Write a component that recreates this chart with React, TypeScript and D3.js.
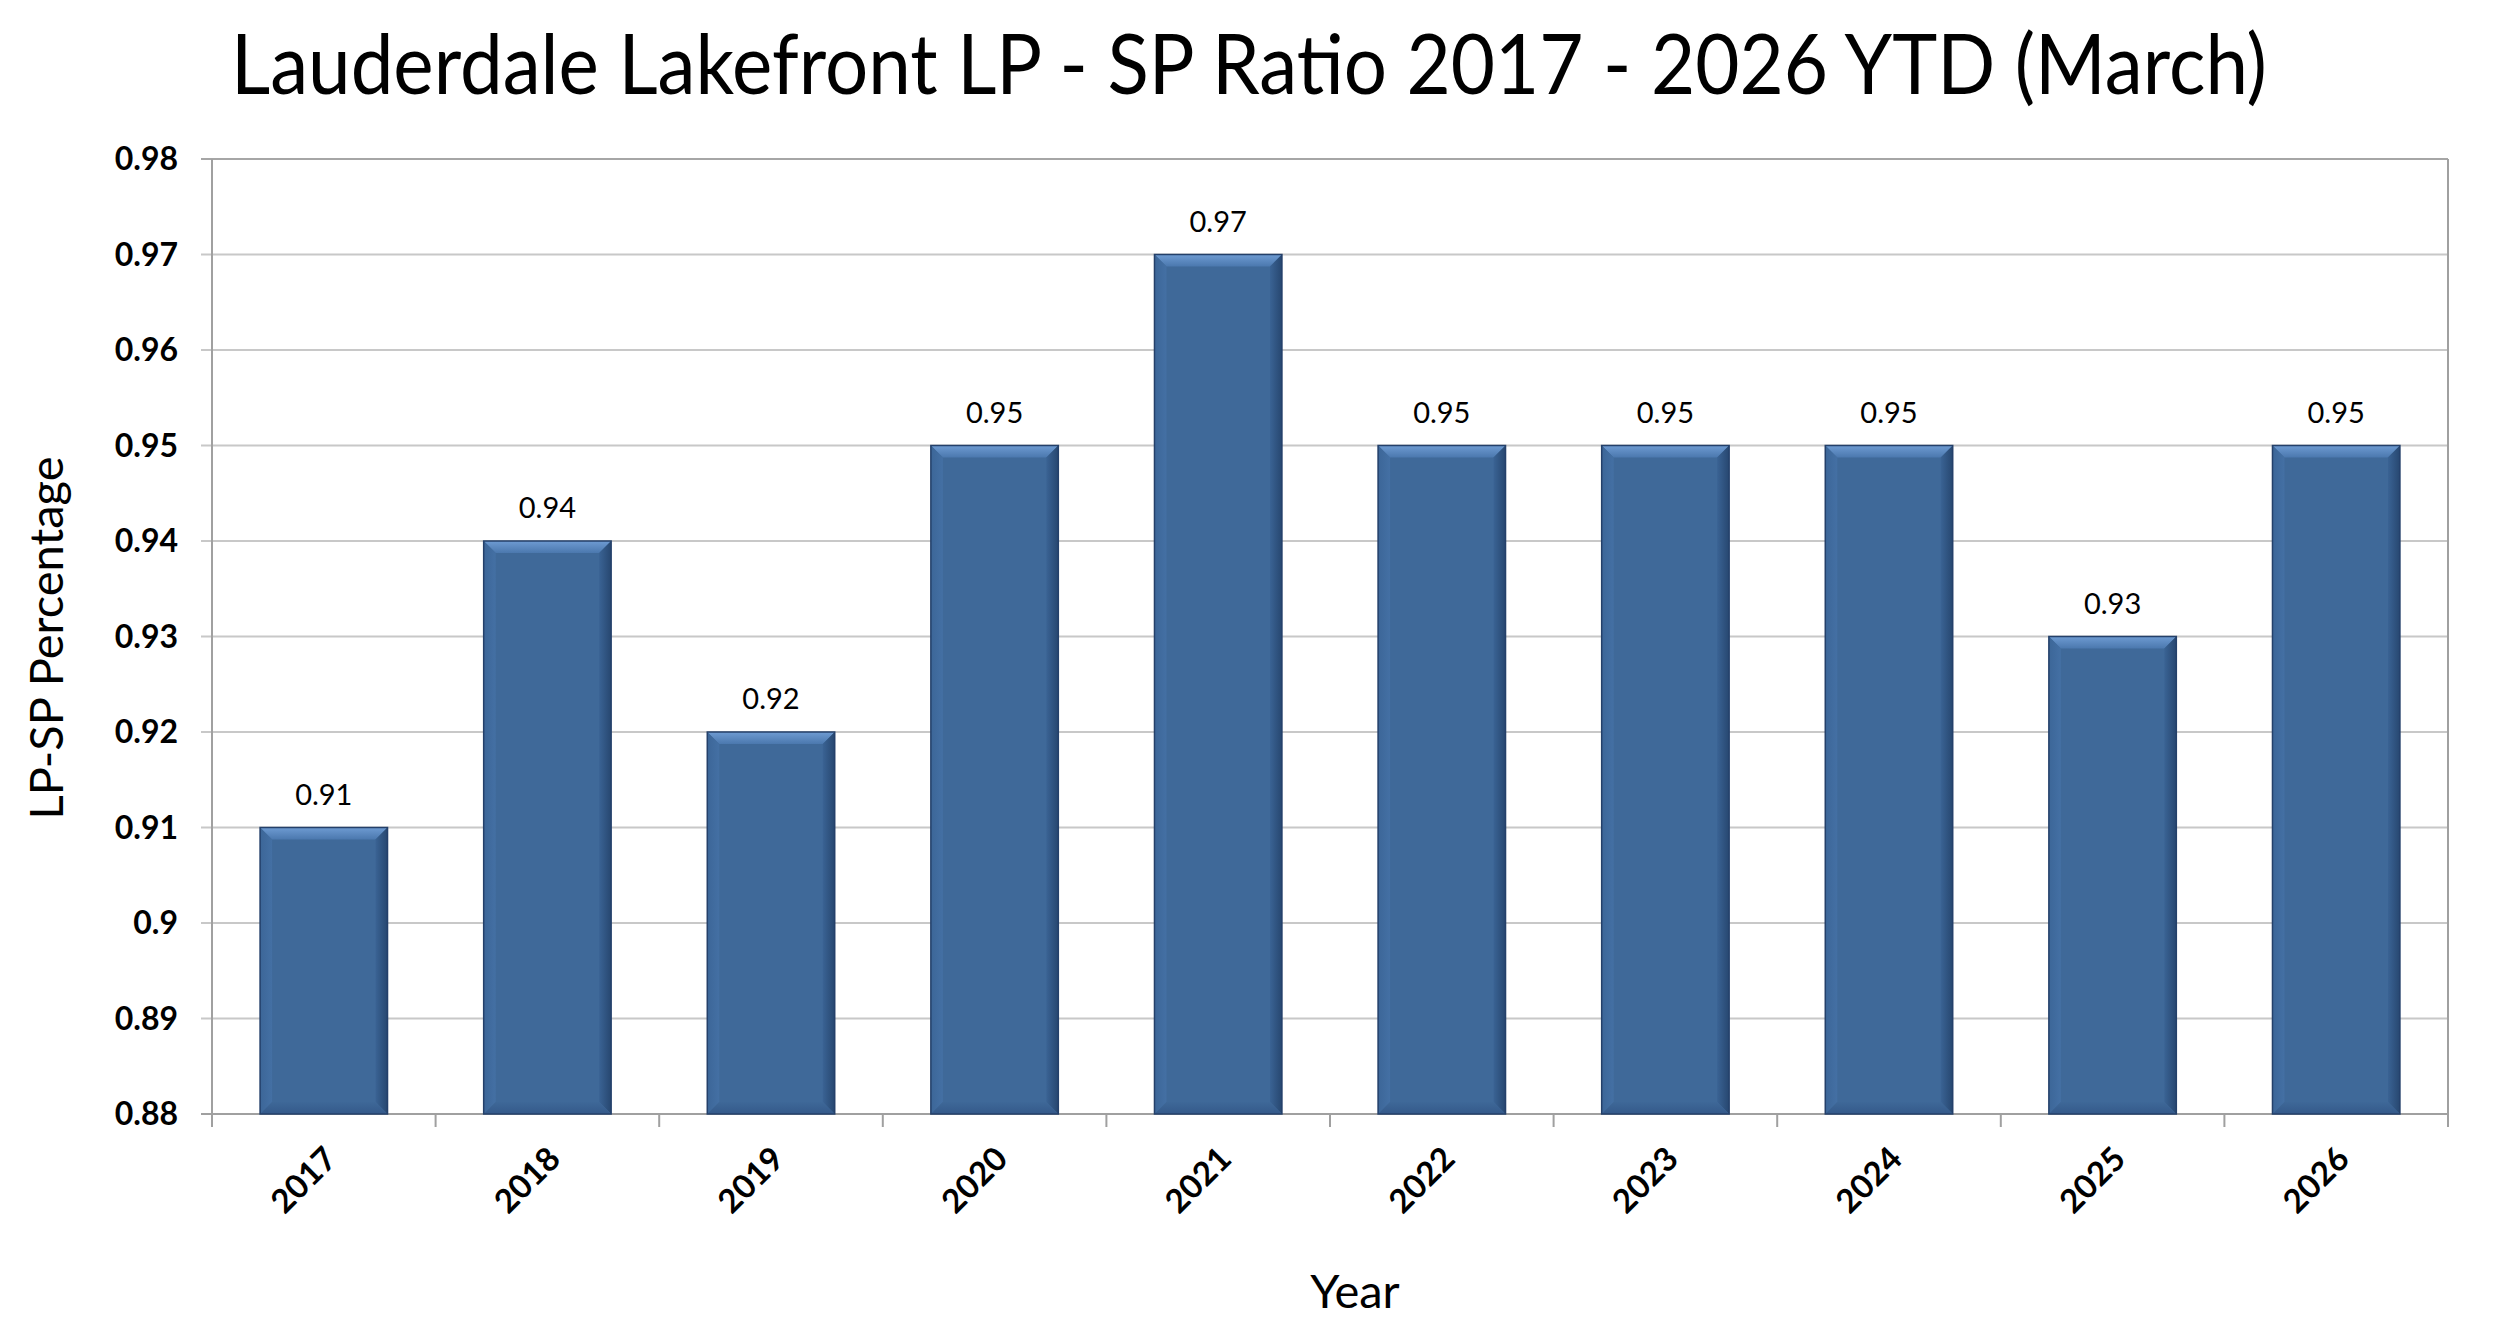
import React from "react";
import * as d3 from "d3";

const years = ["2017", "2018", "2019", "2020", "2021", "2022", "2023", "2024", "2025", "2026"];
const ratios = [0.91, 0.94, 0.92, 0.95, 0.97, 0.95, 0.95, 0.95, 0.93, 0.95];
const yTicks = [0.88, 0.89, 0.9, 0.91, 0.92, 0.93, 0.94, 0.95, 0.96, 0.97, 0.98];
const titleText = "Lauderdale Lakefront LP - SP Ratio 2017 - 2026 YTD (March)";
const yTitle = "LP-SP Percentage";
const xTitle = "Year";

const W = 2500;
const H = 1330;
const left = 212;
const right = 2448;
const top = 159;
const bottom = 1114;
const FONT = "Lato, 'Open Sans', sans-serif";

export default function App() {
  const x = d3
    .scaleBand<string>()
    .domain(years)
    .range([left, right])
    .paddingInner(0.43)
    .paddingOuter(0.215);
  const y = d3.scaleLinear().domain([0.88, 0.98]).range([bottom, top]);
  const step = x.step();
  const b = 12;
  const fmt = (v: number) => String(+v.toFixed(2));

  return (
    <svg width={W} height={H} style={{ position: "absolute", left: 0, top: 0, background: "#fff" }}>
      <defs>
        <linearGradient id="topBevel" x1="0" y1="0" x2="0" y2="1">
          <stop offset="0" stopColor="#6E9BD2" />
          <stop offset="1" stopColor="#4B78AE" />
        </linearGradient>
        <linearGradient id="rightBevel" x1="0" y1="0" x2="1" y2="0">
          <stop offset="0" stopColor="#3A6394" />
          <stop offset="1" stopColor="#274770" />
        </linearGradient>
        <linearGradient id="leftBevel" x1="0" y1="0" x2="1" y2="0">
          <stop offset="0" stopColor="#3C6698" />
          <stop offset="1" stopColor="#4470A4" />
        </linearGradient>
        <linearGradient id="bottomBevel" x1="0" y1="0" x2="0" y2="1">
          <stop offset="0" stopColor="#3E6898" />
          <stop offset="1" stopColor="#34598A" />
        </linearGradient>
      </defs>
      <rect x={0} y={0} width={W} height={H} fill="#fff" />

      <text x={231} y={94} fontFamily={FONT} fontSize={84} fill="#000" textLength={2036} lengthAdjust="spacingAndGlyphs">
        {titleText}
      </text>

      {/* gridlines */}
      {yTicks.map((t) => (
        <line
          key={"g" + t}
          x1={left - 11}
          x2={right}
          y1={y(t)}
          y2={y(t)}
          stroke={t === 0.98 ? "#A6A6A6" : "#C8C8C8"}
          strokeWidth={2}
        />
      ))}
      {/* axes / frame */}
      <line x1={left} x2={left} y1={top} y2={bottom} stroke="#A0A0A0" strokeWidth={2} />
      <line x1={right} x2={right} y1={top} y2={bottom + 13} stroke="#A0A0A0" strokeWidth={2} />
      <line x1={left - 11} x2={right} y1={bottom} y2={bottom} stroke="#A0A0A0" strokeWidth={2} />
      {years.map((yr, i) => (
        <line key={"xt" + yr} x1={left + step * i} x2={left + step * i} y1={bottom} y2={bottom + 13} stroke="#A0A0A0" strokeWidth={2} />
      ))}

      {/* y tick labels */}
      {yTicks.map((t) => (
        <text
          key={"yl" + t}
          x={178}
          y={y(t) + 11}
          textAnchor="end"
          fontFamily={FONT}
          fontWeight="bold"
          fontSize={32}
          fill="#000"
        >
          {fmt(t)}
        </text>
      ))}

      {/* bars */}
      {years.map((yr, i) => {
        const x0 = x(yr)!;
        const x1 = x0 + x.bandwidth();
        const y0 = y(ratios[i]);
        const y1 = y(0.88);
        const cx = x0 + x.bandwidth() / 2;
        return (
          <g key={"bar" + yr}>
            <rect x={x0} y={y0} width={x1 - x0} height={y1 - y0} fill="#3F6999" />
            <polygon points={`${x0},${y0} ${x1},${y0} ${x1 - b},${y0 + b} ${x0 + b},${y0 + b}`} fill="url(#topBevel)" />
            <polygon points={`${x0},${y0} ${x0 + b},${y0 + b} ${x0 + b},${y1 - b} ${x0},${y1}`} fill="url(#leftBevel)" />
            <polygon points={`${x1},${y0} ${x1},${y1} ${x1 - b},${y1 - b} ${x1 - b},${y0 + b}`} fill="url(#rightBevel)" />
            <polygon points={`${x0},${y1} ${x0 + b},${y1 - b} ${x1 - b},${y1 - b} ${x1},${y1}`} fill="url(#bottomBevel)" />
            <rect x={x0} y={y0} width={x1 - x0} height={y1 - y0} fill="none" stroke="#24406A" strokeWidth={1.5} />
            <text x={cx} y={y0 - 23} textAnchor="middle" fontFamily={FONT} fontSize={29} fill="#000">
              {fmt(ratios[i])}
            </text>
            <text
              transform={`translate(${cx + 15},${bottom + 47}) rotate(-45)`}
              textAnchor="end"
              fontFamily={FONT}
              fontWeight="bold"
              fontSize={33}
              fill="#000"
            >
              {yr}
            </text>
          </g>
        );
      })}

      <text
        transform={`translate(63,638) rotate(-90)`}
        textAnchor="middle"
        fontFamily={FONT}
        fontSize={47}
        fill="#000"
      >
        {yTitle}
      </text>
      <text x={1355} y={1308} textAnchor="middle" fontFamily={FONT} fontSize={47} fill="#000">
        {xTitle}
      </text>
    </svg>
  );
}
